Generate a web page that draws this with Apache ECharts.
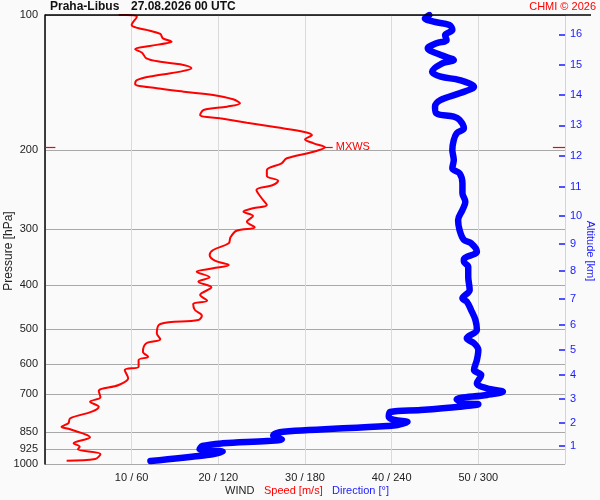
<!DOCTYPE html>
<html><head><meta charset="utf-8">
<script src="https://cdn.jsdelivr.net/npm/echarts@6/dist/echarts.min.js"></script>
<style>html,body{margin:0;padding:0;background:#fafafa}#c{width:600px;height:500px}</style>
</head><body><div id="c"></div>
<script>
// Pressure levels (hPa) for the left axis
const pressureTicks = [100, 200, 300, 400, 500, 600, 700, 850, 925, 1000];
// Speed ticks (m/s); direction = speed * 6
const speedTicks = [10, 20, 30, 40, 50];
// Altitude ticks (km) and the pressure level where each sits
const altitudeKm = [1, 2, 3, 4, 5, 6, 7, 8, 9, 10, 11, 12, 13, 14, 15, 16];
const altitudePressure = [912.1, 810.5, 714.6, 632.0, 557.2, 490.2, 428.0, 371.7, 323.6, 280.4, 241.6, 205.8, 176.1, 150.8, 129.2, 110.4];

// Wind speed profile (m/s) by pressure (hPa)
const speedLevels = [100, 100, 100.9, 105.3, 106.9, 108.4, 110.2, 112.7, 114.7, 115.6, 117.2, 119.2, 121.3, 124.9, 127.1, 128.8, 131.4, 133.7, 136.7, 139.6, 142.5, 145.6, 148.2, 150.7, 154.1, 157.3, 160.0, 162.8, 167.0, 169.9, 173.7, 177.9, 181.9, 185.0, 189.2, 193.1, 197.1, 201.6, 208.5, 213.9, 221.4, 228.3, 233.9, 239.1, 245.3, 256.0, 265.0, 269.5, 274.2, 280.3, 288.6, 297.1, 302.3, 312.7, 322.4, 333.7, 342.4, 352.5, 360.4, 366.6, 373.0, 383.9, 392.6, 404.1, 420.3, 432.8, 440.2, 454.0, 467.4, 477.8, 487.7, 511.6, 527.6, 538.5, 562.2, 576.8, 586.6, 607.1, 617.5, 644.4, 666.9, 687.7, 710.3, 726.5, 745.4, 764.7, 791.1, 811.6, 825.9, 837.0, 872.0, 899.3, 915.1, 927.4, 950.0, 975.0, 983.2];
const speedValues = [8.5, 9.4, 10.6, 10.0, 10.7, 12.1, 13.3, 13.6, 14.6, 14.0, 12.1, 10.4, 11.2, 11.7, 13.3, 15.6, 16.9, 15.6, 12.5, 10.6, 10.4, 12.9, 16.0, 19.4, 21.7, 22.5, 21.0, 18.3, 17.9, 20.2, 23.3, 26.7, 29.8, 30.8, 30.0, 31.0, 32.3, 31.0, 27.9, 27.3, 25.6, 25.6, 26.9, 26.3, 24.4, 25.0, 25.6, 24.0, 22.9, 24.0, 23.3, 24.2, 22.1, 21.4, 21.2, 19.4, 19.0, 19.6, 21.2, 19.4, 17.5, 19.0, 17.7, 19.2, 17.9, 18.7, 17.1, 17.3, 18.1, 17.7, 13.3, 12.9, 13.3, 11.7, 11.3, 11.9, 10.8, 10.8, 9.2, 9.6, 8.5, 6.2, 6.4, 5.2, 6.2, 5.4, 2.9, 2.7, 1.9, 2.9, 5.2, 3.3, 4.0, 3.8, 6.4, 5.8, 2.5];

// Wind direction profile (deg) by pressure (hPa)
const directionLevels = [100, 101.7, 103.5, 105.3, 108.0, 110.8, 113.7, 115.6, 118.6, 122.8, 126.0, 128.1, 133.7, 137.2, 139.6, 144.4, 149.4, 154.6, 160.0, 165.6, 168.5, 171.3, 178.8, 183.4, 189.9, 199.8, 210.4, 219.5, 225.2, 237.0, 249.5, 260.5, 271.8, 286.1, 301.2, 317.0, 322.4, 336.6, 350.0, 354.4, 363.6, 382.7, 409.7, 427.5, 435.0, 454.0, 477.8, 503.0, 524.9, 538.5, 557.3, 586.6, 617.5, 633.6, 661.1, 678.3, 690.2, 702.0, 717.6, 732.5, 736.3, 745.4, 758.1, 765.9, 785.8, 798.0, 806.2, 818.7, 822.9, 847.3, 854.3, 864.0, 881.0, 888.7, 899.3, 911.8, 927.4, 938.8, 954.9, 984.8];
const directionValues = [266, 263, 269, 280, 282, 277, 278, 271, 265, 274, 283, 275, 268, 274, 287, 297, 287, 274, 270, 271, 283, 287, 290, 285, 283, 282, 283, 282, 287, 289, 289, 291, 289, 286, 287, 290, 295, 299, 290, 290, 293, 293, 294, 289, 292, 295, 298, 299, 292, 297, 300, 299, 297, 302, 299, 306, 317, 306, 285, 290, 300, 287, 260, 239, 238, 242, 251, 244, 237, 165, 160, 158, 164, 154, 123, 109, 107, 123, 112, 73];

// Maximum wind (MXWS)
const maxWindSpeed = 32.3;
const maxWindPressure = 197;

const FONT = 'Liberation Sans, Arial, sans-serif';
const zip = (xs, ys) => xs.map((x, i) => [x, ys[i]]);

const chart = echarts.init(document.getElementById('c'));
chart.setOption({
  backgroundColor: '#fafafa',
  animation: false,
  textStyle: { fontFamily: FONT },
  title: [
    { text: 'Praha-Libus', left: 50, top: 1, padding: 0, textStyle: { fontFamily: FONT, fontSize: 12, fontWeight: 'bold', color: '#111' } },
    { text: '27.08.2026 00 UTC', left: 131, top: 1, padding: 0, textStyle: { fontFamily: FONT, fontSize: 12, fontWeight: 'bold', color: '#111' } },
    { text: 'CHMI © 2026', right: 4, top: 1, padding: 0, textStyle: { fontFamily: FONT, fontSize: 11, fontWeight: 'normal', color: '#ff0000' } }
  ],
  grid: { left: 45, right: 35, top: 15, bottom: 36 },
  xAxis: [
    {
      type: 'value', min: 0, max: 60, interval: 10,
      axisLine: { show: false }, axisTick: { show: false },
      splitLine: { show: true, lineStyle: { color: '#dadada', width: 1 } },
      axisLabel: { fontFamily: FONT, fontSize: 11, color: '#222', margin: 8,
        formatter: v => speedTicks.includes(v) ? v + ' / ' + (v * 6) : '' }
    },
    { type: 'value', min: 0, max: 360, show: false }
  ],
  yAxis: [
    {
      type: 'log', logBase: 10, min: 100, max: 1000, inverse: true, position: 'left',
      axisLine: { show: true, onZero: false, lineStyle: { color: '#000', width: 1.5 } },
      axisTick: { show: false, customValues: pressureTicks },
      axisLabel: { customValues: pressureTicks, fontFamily: FONT, fontSize: 11, color: '#222', margin: 7,
        formatter: v => String(Math.round(v)) },
      splitLine: { show: true, lineStyle: { color: '#a8a8a8', width: 1 } }
    },
    {
      type: 'log', logBase: 10, min: 100, max: 1000, inverse: true, position: 'right',
      axisLine: { show: true, onZero: false, lineStyle: { color: '#d4d4d4', width: 1 } },
      axisTick: { show: true, inside: true, length: 6, customValues: altitudePressure, lineStyle: { color: '#1a1aff', width: 1.5 } },
      axisLabel: { customValues: altitudePressure, fontFamily: FONT, fontSize: 11, color: '#1a1aff', margin: 5,
        formatter: v => {
          let best = 0;
          altitudePressure.forEach((p, i) => { if (Math.abs(p - v) < Math.abs(altitudePressure[best] - v)) best = i; });
          return String(altitudeKm[best]);
        } },
      splitLine: { show: false }
    }
  ],
  series: [
    {
      name: 'Direction', type: 'line', xAxisIndex: 1, yAxisIndex: 0,
      data: zip(directionValues, directionLevels),
      showSymbol: false, smooth: 0.35,
      lineStyle: { color: '#0000ff', width: 6.5, cap: 'round', join: 'round' },
      z: 3
    },
    {
      name: 'Speed', type: 'line', xAxisIndex: 0, yAxisIndex: 0,
      data: zip(speedValues, speedLevels),
      showSymbol: false, smooth: 0.35,
      lineStyle: { color: '#ff0000', width: 2 },
      z: 4,
      markLine: {
        silent: true, symbol: ['none', 'none'], animation: false,
        lineStyle: { color: '#ff0000', width: 1.2, type: 'solid' },
        label: { show: false },
        data: [
          [{ coord: [0, maxWindPressure] }, { coord: [1.2, maxWindPressure] }],
          [{ coord: [maxWindSpeed, maxWindPressure] }, { coord: [maxWindSpeed + 0.9, maxWindPressure],
            label: { show: true, position: 'end', formatter: 'MXWS', color: '#ff0000', fontFamily: FONT, fontSize: 11, distance: 3 } }],
          [{ coord: [58.6, maxWindPressure] }, { coord: [60, maxWindPressure] }]
        ]
      }
    }
  ],
  graphic: [
    { type: 'line', z: 100, shape: { x1: 45, y1: 15, x2: 591, y2: 15 }, style: { stroke: '#000', lineWidth: 1.5 } },
    { type: 'text', z: 100, x: 9, y: 251, rotation: Math.PI / 2,
      style: { text: 'Pressure [hPa]', font: '12px ' + FONT, fill: '#222', align: 'center', verticalAlign: 'middle' } },
    { type: 'text', z: 100, x: 590, y: 251, rotation: -Math.PI / 2,
      style: { text: 'Altitude [km]', font: '11px ' + FONT, fill: '#1a1aff', align: 'center', verticalAlign: 'middle' } },
    { type: 'text', z: 100, x: 225, y: 491,
      style: { text: 'WIND', font: '11px ' + FONT, fill: '#222', align: 'left', verticalAlign: 'middle' } },
    { type: 'text', z: 100, x: 264, y: 491,
      style: { text: 'Speed [m/s]', font: '11px ' + FONT, fill: '#ff0000', align: 'left', verticalAlign: 'middle' } },
    { type: 'text', z: 100, x: 332, y: 491,
      style: { text: 'Direction [°]', font: '11px ' + FONT, fill: '#1a1aff', align: 'left', verticalAlign: 'middle' } }
  ]
});
</script>
</body></html>
